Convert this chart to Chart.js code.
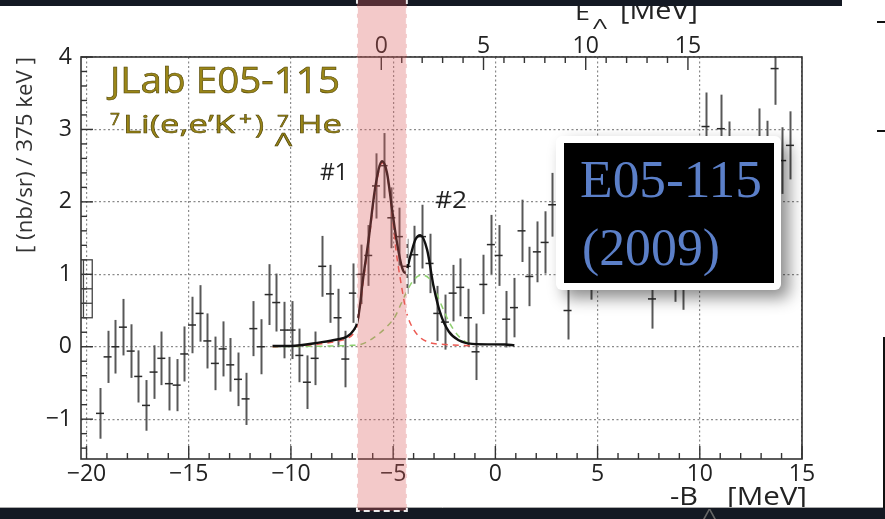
<!DOCTYPE html>
<html>
<head>
<meta charset="utf-8">
<script src="https://cdn.jsdelivr.net/npm/chart.js@4.4.1/dist/chart.umd.min.js"></script>
<style>
  html, body { margin: 0; padding: 0; background: #fff; overflow: hidden; }
  #wrap { position: relative; width: 885px; height: 519px; }
  canvas { display: block; }
</style>
</head>
<body>
<div id="wrap"><canvas id="c" width="885" height="519"></canvas></div>
<script>
// 7Li(e,e'K+)7_Lambda He missing-mass spectrum, 375 keV bins, x = -B_Lambda [MeV]
const binX = [-19.34,-18.97,-18.59,-18.22,-17.84,-17.47,-17.09,-16.72,-16.34,-15.97,
  -15.59,-15.22,-14.84,-14.47,-14.09,-13.72,-13.34,-12.97,-12.59,-12.22,
  -11.84,-11.47,-11.09,-10.72,-10.34,-9.97,-9.59,-9.22,-8.84,-8.47,
  -8.09,-7.72,-7.34,-6.97,-6.59,-6.22,-5.84,-5.47,-5.09,-4.72,
  -4.34,-3.97,-3.59,-3.22,-2.84,-2.47,-2.09,-1.72,-1.34,-0.97,
  -0.59,-0.22,0.16,0.53,0.91,1.28,1.66,2.03,2.41,2.78,
  3.53,4.66,7.66,8.78,9.16,10.28,11.03,11.41,12.91,13.28,13.66,14.03,14.41];
// cross section [(nb/sr)/375 keV]
const yieldVal = [-0.92,-0.14,0.00,0.27,-0.06,-0.41,-0.81,-0.35,-0.16,-0.51,
  -0.53,-0.10,0.30,0.46,0.08,-0.23,-0.03,-0.25,-0.45,-0.72,
  0.25,0.00,0.72,0.61,0.23,0.23,-0.12,-0.49,-0.16,1.11,
  0.73,0.40,-0.17,0.74,1.00,1.26,2.22,2.50,1.78,1.52,
  1.11,1.27,1.52,1.15,0.46,0.34,0.74,0.82,0.40,-0.07,
  0.86,1.41,1.26,0.38,0.54,1.60,0.97,1.31,1.44,1.96,
  0.50,1.05,0.66,1.03,0.92,3.04,3.01,2.66,2.84,2.67,3.84,2.57,2.78];
// statistical errors
const yieldErr = [0.35,0.36,0.37,0.39,0.37,0.36,0.35,0.37,0.37,0.37,
  0.36,0.38,0.39,0.39,0.38,0.37,0.38,0.37,0.37,0.36,
  0.38,0.38,0.42,0.40,0.39,0.40,0.37,0.37,0.37,0.42,
  0.40,0.40,0.39,0.41,0.41,0.42,0.45,0.45,0.42,0.40,
  0.38,0.40,0.44,0.41,0.38,0.38,0.39,0.40,0.40,0.39,
  0.41,0.41,0.42,0.39,0.41,0.43,0.41,0.42,0.43,0.44,
  0.40,0.40,0.41,0.41,0.41,0.47,0.47,0.45,0.45,0.45,0.50,0.46,0.47];

// fitted spectrum (sum) and the two peak components
const fitTotalX = [-10.9,-10.0,-8.56,-7.74,-7.25,-6.93,-6.76,-6.60,-6.52,-6.20,-5.87,-5.54,-5.30,-5.05,-4.81,-4.56,-4.40,-4.16,-3.91,-3.67,-3.34,-3.02,-2.69,-2.28,-1.79,-1.14,0.49,0.93];
const fitTotalY = [0.01,0.01,0.06,0.10,0.14,0.23,0.33,0.62,0.83,1.48,2.21,2.56,2.40,1.89,1.43,1.09,1.02,1.25,1.48,1.54,1.34,0.83,0.46,0.21,0.09,0.04,0.03,0.02];
const peak1X = [-10.9,-8.5,-7.7,-7.2,-6.9,-6.76,-6.60,-6.52,-6.20,-5.87,-5.54,-5.30,-5.05,-4.89,-4.60,-4.35,-3.98,-3.34,-2.40,-1.0];
const peak1Y = [0.0,0.04,0.08,0.12,0.20,0.30,0.58,0.78,1.43,2.17,2.54,2.38,1.85,1.40,0.85,0.48,0.23,0.07,0.03,0.01];
const peak2X = [-10.9,-8.0,-7.0,-6.6,-6.03,-5.3,-4.9,-4.6,-4.3,-4.0,-3.6,-3.2,-2.9,-2.6,-2.28,-1.87,-1.47,-1.1];
const peak2Y = [0.0,0.01,0.02,0.03,0.11,0.28,0.42,0.60,0.78,0.92,0.99,0.93,0.75,0.55,0.35,0.17,0.07,0.03];

// systematic box drawn at the low edge of the spectrum
const sysBoxX = [-20.15, -19.72];
const sysBoxY = [0.40, 1.20];
const sysBoxTicks = [0.80, 0.60];

// -B_Lambda range shaded as the ground-state region
const bandX = [-6.77, -4.33];

// E_Lambda = -B_Lambda + threshold offset
const eOffset = 5.58;
const xMin = -20.27, xMax = 15, yMin = -1.55, yMax = 4.0;
const eTickLabels = [0, 5, 10, 15];

const TXT = '#222';
const FONT = '"Open Sans", "DejaVu Sans", sans-serif';
const SERIF = '"Liberation Serif", "DejaVu Serif", serif';

function toXY(xs, ys) { return xs.map((v, i) => ({ x: v, y: ys[i] })); }
function fmtTick(v) { return String(v).replace('-', '\u2212'); }

// text drawn to a given width (horizontal stretch) at a baseline
function fitText(ctx, t, x, y, size, width, opts) {
  opts = opts || {};
  ctx.save();
  ctx.font = size + 'px ' + (opts.family || FONT);
  const w = ctx.measureText(t).width;
  ctx.translate(x, y);
  ctx.scale(width ? width / w : 1, 1);
  ctx.textAlign = 'left';
  ctx.textBaseline = 'alphabetic';
  ctx.fillText(t, 0, 0);
  if (opts.stroke) ctx.strokeText(t, 0, 0);
  ctx.restore();
}

const decor = {
  id: 'decor',
  beforeDraw(chart) {
    const ctx = chart.ctx;
    ctx.save();
    ctx.fillStyle = '#ffffff';
    ctx.fillRect(0, 0, chart.width, chart.height);
    ctx.restore();
  },
  beforeDatasetsDraw(chart) {
    const { ctx, chartArea: a, scales: { x, y } } = chart;
    ctx.save();
    ctx.beginPath();
    ctx.rect(a.left, a.top, a.right - a.left, a.bottom - a.top);
    ctx.clip();
    ctx.strokeStyle = '#585858';
    ctx.lineWidth = 2;
    binX.forEach((bx, i) => {
      const px = Math.round(x.getPixelForValue(bx)) + 0.5;
      ctx.beginPath();
      ctx.moveTo(px, y.getPixelForValue(yieldVal[i] + yieldErr[i]));
      ctx.lineTo(px, y.getPixelForValue(yieldVal[i] - yieldErr[i]));
      ctx.stroke();
    });
    ctx.restore();
  },
  afterDraw(chart) {
    const { ctx, chartArea: a, scales: { x, y, xTop } } = chart;
    const line = (x1, y1, x2, y2) => { ctx.beginPath(); ctx.moveTo(x1, y1); ctx.lineTo(x2, y2); ctx.stroke(); };
    ctx.save();

    // frame and inward tick marks
    ctx.strokeStyle = '#333';
    ctx.lineWidth = 1.6;
    ctx.strokeRect(a.left, a.top, a.right - a.left, a.bottom - a.top);
    ctx.lineWidth = 1.4;
    for (let v = -20; v <= 15; v++) {
      const px = x.getPixelForValue(v);
      line(px, a.bottom, px, a.bottom - (v % 5 === 0 ? 13 : 6));
    }
    for (let k = -7; k <= 20; k++) {
      const py = y.getPixelForValue(k * 0.2);
      line(a.left, py, a.left + (k % 5 === 0 ? 12 : 6), py);
    }
    for (let e = 0; e <= 15; e++) {
      const px = xTop.getPixelForValue(e);
      line(px, a.top, px, a.top + (e % 5 === 0 ? 13 : 6));
    }

    // systematic box
    ctx.strokeStyle = '#444';
    ctx.lineWidth = 1.3;
    const bx0 = x.getPixelForValue(sysBoxX[0]), bx1 = x.getPixelForValue(sysBoxX[1]);
    const by0 = y.getPixelForValue(sysBoxY[1]), by1 = y.getPixelForValue(sysBoxY[0]);
    ctx.strokeRect(bx0, by0, bx1 - bx0, by1 - by0);
    sysBoxTicks.forEach(v => { const py = y.getPixelForValue(v); line(bx0, py, bx1, py); });

    // axis titles
    ctx.fillStyle = TXT;
    fitText(ctx, 'E', 575, 20, 22, 15);
    fitText(ctx, 'Λ', 593, 29, 14, 14);
    fitText(ctx, '[MeV]', 620, 19, 25, 78);
    fitText(ctx, '-B', 670, 505, 25, 28);
    fitText(ctx, '[MeV]', 727, 505, 25, 80);

    ctx.save();
    ctx.translate(25, 155);
    ctx.rotate(-Math.PI / 2);
    ctx.fillStyle = '#333';
    fitText(ctx, '[ (nb/sr) / 375 keV ]', -98, 7, 21, 196);
    ctx.restore();

    // reaction label
    ctx.fillStyle = '#9a8618';
    ctx.strokeStyle = '#4d4204';
    ctx.lineWidth = 0.55;
    const so = { stroke: true };
    fitText(ctx, 'JLab E05-115', 110, 93, 36, 230, so);
    fitText(ctx, '7', 110, 125, 17, 10, so);
    fitText(ctx, 'Li(e,e’K', 123, 133, 26, 112, so);
    fitText(ctx, '+', 239, 125, 18, 13, so);
    fitText(ctx, ')', 255, 133, 26, 9, so);
    fitText(ctx, '7', 277, 127, 17, 12, so);
    fitText(ctx, 'Λ', 275, 146, 18, 17, so);
    fitText(ctx, 'He', 297, 133, 26, 45, so);

    // peak labels
    ctx.fillStyle = TXT;
    fitText(ctx, '#1', 320, 180, 23, 28);
    fitText(ctx, '#2', 435, 208, 23, 32);

    // slide strips and neighbouring frame
    ctx.fillStyle = '#141923';
    ctx.fillRect(0, 0, 842, 6);
    ctx.fillRect(0, 508, 885, 11);
    ctx.strokeStyle = '#aaa';
    ctx.lineWidth = 1;
    line(0, 507.5, 885, 507.5);
    ctx.fillStyle = '#666';
    fitText(ctx, 'Λ', 703, 519, 14, 13);
    ctx.strokeStyle = '#111';
    ctx.lineWidth = 2;
    line(884, 337, 884, 508);
    line(877, 22, 885, 22);
    line(877, 131, 885, 131);

    // shaded ground-state band
    const b0 = x.getPixelForValue(bandX[0]), b1 = x.getPixelForValue(bandX[1]);
    ctx.fillStyle = 'rgba(220, 90, 90, 0.33)';
    ctx.fillRect(b0, -2, b1 - b0, 513);
    ctx.strokeStyle = 'rgba(255,255,255,0.9)';
    ctx.lineWidth = 2;
    ctx.setLineDash([6, 4]);
    ctx.strokeRect(b0, -2, b1 - b0, 513);
    ctx.setLineDash([]);

    // experiment tag
    ctx.save();
    ctx.shadowColor = 'rgba(0,0,0,0.45)';
    ctx.shadowBlur = 16;
    ctx.shadowOffsetX = 8;
    ctx.shadowOffsetY = 8;
    ctx.fillStyle = '#ffffff';
    ctx.beginPath();
    ctx.roundRect(556, 136, 225, 154, 6);
    ctx.fill();
    ctx.restore();
    ctx.fillStyle = '#000';
    ctx.fillRect(564, 143, 210, 140);
    ctx.fillStyle = '#5b7fc8';
    fitText(ctx, 'E05-115', 580, 197, 52, 182, { family: SERIF });
    fitText(ctx, '(2009)', 582, 265, 52, 138, { family: SERIF });

    ctx.restore();
  }
};

new Chart(document.getElementById('c'), {
  type: 'scatter',
  data: {
    datasets: [
      { type: 'line', data: toXY(fitTotalX, fitTotalY), borderColor: '#111', borderWidth: 2.4,
        pointRadius: 0, cubicInterpolationMode: 'monotone', fill: false, order: 0 },
      { type: 'line', data: toXY(peak1X, peak1Y), borderColor: '#ec5a52', borderWidth: 1.5,
        borderDash: [6, 5], pointRadius: 0, cubicInterpolationMode: 'monotone', fill: false, order: 1 },
      { type: 'line', data: toXY(peak2X, peak2Y), borderColor: '#8fd070', borderWidth: 1.5,
        borderDash: [6, 5], pointRadius: 0, cubicInterpolationMode: 'monotone', fill: false, order: 2 },
      { type: 'scatter', data: toXY(binX, yieldVal), pointStyle: 'line', pointRadius: 4,
        borderColor: '#2a2a2a', borderWidth: 1.5, order: 3 }
    ]
  },
  options: {
    responsive: false,
    animation: false,
    devicePixelRatio: 1,
    events: [],
    layout: { padding: { left: 0, right: 83, top: 0, bottom: 0 } },
    plugins: { legend: { display: false }, tooltip: { enabled: false } },
    scales: {
      x: {
        type: 'linear', position: 'bottom', min: xMin, max: xMax,
        afterFit: s => { s.height = 60; },
        ticks: { stepSize: 5, includeBounds: false, maxRotation: 0, autoSkip: false, padding: 2,
                 color: TXT, font: { family: FONT, size: 23 }, callback: v => fmtTick(v) },
        grid: { drawTicks: false, color: '#8a8a8a', lineWidth: 1.2 },
        border: { display: false, dash: [2, 2.5] }
      },
      xTop: {
        type: 'linear', position: 'top', min: xMin + eOffset, max: xMax + eOffset,
        afterFit: s => { s.height = 57; },
        ticks: { stepSize: 5, includeBounds: false, maxRotation: 0, autoSkip: false, padding: -3,
                 color: TXT, font: { family: FONT, size: 23 },
                 callback: v => (eTickLabels.includes(v) ? String(v) : '') },
        grid: { display: false, drawTicks: false },
        border: { display: false }
      },
      y: {
        type: 'linear', position: 'left', min: yMin, max: yMax,
        afterFit: s => { s.width = 81; },
        ticks: { stepSize: 1, includeBounds: false, padding: 9,
                 color: TXT, font: { family: FONT, size: 23 }, callback: v => fmtTick(v) },
        grid: { drawTicks: false, color: '#8a8a8a', lineWidth: 1.2 },
        border: { display: false, dash: [2, 2.5] }
      }
    }
  },
  plugins: [decor]
});
</script>
</body>
</html>
